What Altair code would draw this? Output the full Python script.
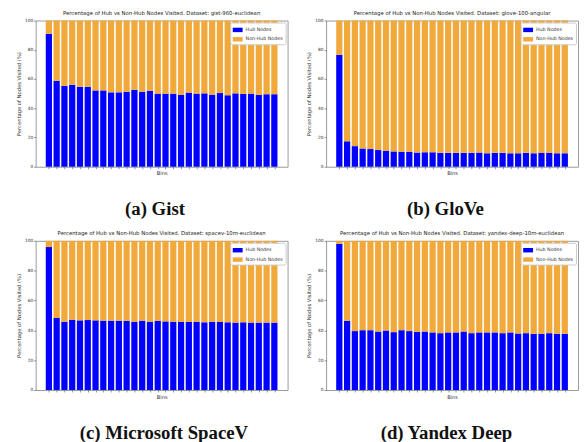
import altair as alt
import pandas as pd

bins = list(range(1, 31))
series_names = ["Hub Nodes", "Non-Hub Nodes"]
series_colors = ["#0000FF", "#F2A93B"]
y_ticks = [0, 20, 40, 60, 80, 100]

datasets = ["gist-960-euclidean", "glove-100-angular",
            "spacev-10m-euclidean", "yandex-deep-10m-euclidean"]
captions = ["(a) Gist", "(b) GloVe", "(c) Microsoft SpaceV", "(d) Yandex Deep"]

gist_hub = [91.0, 58.8, 55.3, 56.1, 54.6, 54.6, 52.2, 52.2, 50.9, 50.9,
            51.3, 52.6, 51.3, 52.0, 50.0, 50.0, 50.0, 49.1, 50.7, 50.0,
            50.2, 49.3, 50.4, 48.9, 50.2, 49.8, 50.0, 49.1, 49.6, 49.6]
glove_hub = [76.5, 17.4, 14.1, 12.5, 12.1, 11.4, 11.0, 10.5, 10.3, 10.3,
             9.7, 9.9, 9.9, 9.5, 9.5, 9.5, 9.5, 9.5, 9.7, 9.2,
             9.5, 9.5, 9.2, 9.2, 9.5, 9.2, 9.4, 9.4, 9.2, 9.2]
spacev_hub = [95.8, 48.2, 45.8, 47.1, 46.7, 46.9, 46.7, 46.5, 46.5, 46.5,
              46.3, 45.8, 46.5, 45.8, 46.3, 46.0, 45.8, 45.6, 45.6, 45.8,
              45.4, 45.8, 45.6, 45.4, 45.2, 45.4, 45.2, 45.2, 45.2, 45.2]
yandex_hub = [98.0, 46.3, 39.5, 40.1, 40.1, 39.2, 39.9, 38.8, 40.1, 39.5,
              39.0, 39.2, 38.6, 38.1, 38.6, 38.6, 39.2, 38.1, 38.6, 38.6,
              38.6, 38.1, 38.6, 37.9, 38.1, 37.7, 37.7, 38.1, 37.7, 37.7]

hubs = [gist_hub, glove_hub, spacev_hub, yandex_hub]
cap_dx = [3, 3, 12, 4]
plot_h = [148, 148, 151, 151]
cap_off = [24, 24, 25, 25]
x_domain = [-0.7, 31.7]


def panel(hub, dataset, caption, dx, h, off):
    n = len(bins)
    df = pd.DataFrame({
        "bin": bins + bins,
        "kind": [series_names[0]] * n + [series_names[1]] * n,
        "pct": hub + [round(100 - v, 2) for v in hub],
        "ord": [0] * n + [1] * n,
    })
    bars = alt.Chart(df).mark_bar(size=6.3).encode(
        x=alt.X("bin:Q", title="Bins",
                scale=alt.Scale(domain=x_domain, nice=False, zero=False, padding=0),
                axis=alt.Axis(values=bins, labels=False, ticks=True, tickSize=2,
                              domain=False, grid=False,
                              tickColor="#444", tickWidth=0.6,
                              titleFontSize=5.2, titleFontWeight="normal",
                              titlePadding=2, titleColor="#333")),
        y=alt.Y("pct:Q", stack="zero",
                scale=alt.Scale(domain=[0, 100], nice=False, padding=0),
                axis=alt.Axis(values=y_ticks, grid=False, domain=False,
                              tickSize=2, tickColor="#444", tickWidth=0.6,
                              labelFontSize=4.4, labelPadding=1, labelColor="#333",
                              title="Percentage of Nodes Visited (%)",
                              titleFontSize=5.3, titleFontWeight="normal",
                              titlePadding=3, titleColor="#333")),
        color=alt.Color("kind:N",
                        scale=alt.Scale(domain=series_names, range=series_colors),
                        legend=alt.Legend(title=None, orient="top-right", offset=2,
                                          padding=2.5, fillColor="white",
                                          strokeColor="#cccccc", cornerRadius=1.5,
                                          labelFontSize=4.8, labelColor="#333",
                                          labelOffset=3, rowPadding=1.5,
                                          symbolType="M-1,-0.45H1V0.45H-1Z",
                                          symbolSize=100, symbolStrokeWidth=0)),
        order=alt.Order("ord:Q"),
    ).properties(
        width=255, height=h,
        title=alt.Title(
            f"Percentage of Hub vs Non-Hub Nodes Visited. Dataset: {dataset}",
            fontSize=5.4, fontWeight="normal", offset=1, color="#222",
            anchor="middle", frame="group"),
    )
    return alt.vconcat(
        bars,
        title=alt.Title(caption, orient="bottom", anchor="middle", dx=dx,
                        font="Liberation Serif", fontSize=19, fontWeight="bold",
                        color="#111", offset=off),
    ).resolve_legend(color="independent")


pa, pb, pc, pd_ = [panel(*args) for args in zip(hubs, datasets, captions, cap_dx, plot_h, cap_off)]

row1 = alt.hconcat(pa, pb, spacing=18).resolve_legend(color="independent")
row2 = alt.hconcat(pc, pd_, spacing=18).resolve_legend(color="independent")

chart = alt.vconcat(row1, row2, spacing=12).resolve_legend(
    color="independent"
).configure(
    font="DejaVu Sans",
    padding={"left": 8, "top": 0, "right": 0, "bottom": 0},
).configure_view(stroke="#999999", strokeWidth=1)

chart.save("out.html", embed_options={"renderer": "svg", "actions": False})
